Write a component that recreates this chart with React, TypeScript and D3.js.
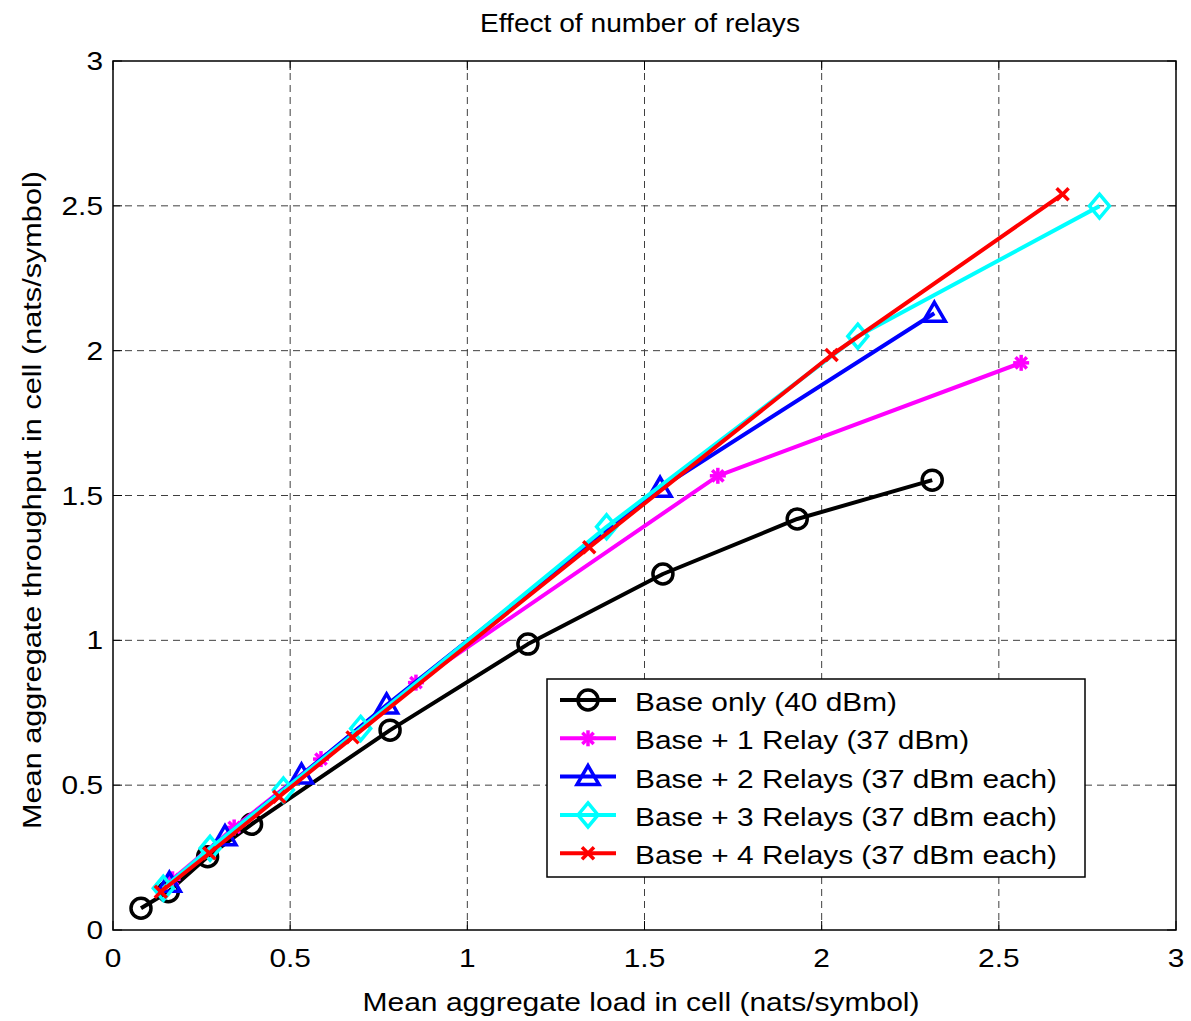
import * as d3 from "d3";
import React from "react";

// Series data (x = load, y = throughput, nats/symbol)
const baseX = [0.079, 0.156, 0.267, 0.391, 0.782, 1.171, 1.552, 1.931, 2.312];
const baseY = [0.075, 0.132, 0.253, 0.365, 0.69, 0.987, 1.229, 1.419, 1.553];

const relay1X = [0.168, 0.342, 0.587, 0.855, 1.707, 2.563];
const relay1Y = [0.175, 0.354, 0.59, 0.854, 1.568, 1.958];

const relay2X = [0.159, 0.316, 0.532, 0.772, 1.544, 2.318];
const relay2Y = [0.161, 0.322, 0.535, 0.777, 1.525, 2.129];

const relay3X = [0.142, 0.274, 0.481, 0.699, 1.393, 2.102, 2.784];
const relay3Y = [0.144, 0.282, 0.483, 0.696, 1.392, 2.05, 2.499];

const relay4X = [0.135, 0.272, 0.469, 0.676, 1.344, 2.028, 2.68];
const relay4Y = [0.132, 0.265, 0.46, 0.665, 1.321, 1.985, 2.54];

const xTicks = [0, 0.5, 1, 1.5, 2, 2.5, 3];
const yTicks = [0, 0.5, 1, 1.5, 2, 2.5, 3];

const seriesNames = [
  "Base only (40 dBm)",
  "Base + 1 Relay (37 dBm)",
  "Base + 2 Relays (37 dBm each)",
  "Base + 3 Relays (37 dBm each)",
  "Base + 4 Relays (37 dBm each)"
];
const seriesColors = ["#000000", "#ff00ff", "#0000ff", "#00ffff", "#ff0000"];
const seriesMarkers = ["circle", "asterisk", "triangle", "diamond", "x"];
const seriesX = [baseX, relay1X, relay2X, relay3X, relay4X];
const seriesY = [baseY, relay1Y, relay2Y, relay3Y, relay4Y];

const font = "'Liberation Sans', Arial, sans-serif";
const stretch = 1.17; // the original text is rendered a bit wider than Arial

// text stretched horizontally around its anchor point
function WideText({ x, y, anchor = "start", size = 25.5, children }) {
  return (
    <text
      transform={`translate(${x},${y}) scale(${stretch},1)`}
      textAnchor={anchor}
      fontSize={size}
      fill="#000"
    >
      {children}
    </text>
  );
}

function Marker({ type, cx, cy, color }) {
  const sw = 3.5;
  if (type === "circle") {
    return <circle cx={cx} cy={cy} r={10} fill="none" stroke={color} strokeWidth={sw} />;
  }
  if (type === "triangle") {
    const pts = [[cx, cy - 11], [cx + 11, cy + 8], [cx - 11, cy + 8]];
    return <polygon points={pts.map((p) => p.join(",")).join(" ")} fill="none" stroke={color} strokeWidth={sw} />;
  }
  if (type === "diamond") {
    const pts = [[cx, cy - 12], [cx + 10, cy], [cx, cy + 12], [cx - 10, cy]];
    return <polygon points={pts.map((p) => p.join(",")).join(" ")} fill="none" stroke={color} strokeWidth={sw} />;
  }
  if (type === "x") {
    const r = 6;
    return (
      <g stroke={color} strokeWidth={sw}>
        <line x1={cx - r} y1={cy - r} x2={cx + r} y2={cy + r} />
        <line x1={cx - r} y1={cy + r} x2={cx + r} y2={cy - r} />
      </g>
    );
  }
  // asterisk
  const r = 8;
  const d = r * 0.707;
  return (
    <g stroke={color} strokeWidth={sw}>
      <line x1={cx - r} y1={cy} x2={cx + r} y2={cy} />
      <line x1={cx} y1={cy - r} x2={cx} y2={cy + r} />
      <line x1={cx - d} y1={cy - d} x2={cx + d} y2={cy + d} />
      <line x1={cx - d} y1={cy + d} x2={cx + d} y2={cy - d} />
    </g>
  );
}

export default function App() {
  const width = 1191;
  const height = 1021;
  const left = 113, right = 1176, top = 61, bottom = 930;

  const x = d3.scaleLinear().domain([0, 3]).range([left, right]);
  const y = d3.scaleLinear().domain([0, 3]).range([bottom, top]);

  const legend = { x0: 547, y0: 679, x1: 1085, y1: 877 };
  const rowH = 38.3;
  const fmt = d3.format("~g");

  return (
    <svg
      width={width}
      height={height}
      style={{ position: "absolute", left: 0, top: 0, background: "#fff" }}
      fontFamily={font}
    >
      <rect x={0} y={0} width={width} height={height} fill="#fff" />

      {/* grid */}
      <g stroke="#000" strokeWidth={1} strokeDasharray="7,5" opacity={0.75}>
        {xTicks.slice(1, -1).map((t) => (
          <line key={"gx" + t} x1={x(t)} x2={x(t)} y1={top} y2={bottom} />
        ))}
        {yTicks.slice(1, -1).map((t) => (
          <line key={"gy" + t} x1={left} x2={right} y1={y(t)} y2={y(t)} />
        ))}
      </g>

      {/* ticks on all four sides */}
      <g stroke="#000" strokeWidth={1}>
        {xTicks.map((t) => (
          <g key={"tx" + t}>
            <line x1={x(t)} x2={x(t)} y1={bottom} y2={bottom - 9} />
            <line x1={x(t)} x2={x(t)} y1={top} y2={top + 9} />
          </g>
        ))}
        {yTicks.map((t) => (
          <g key={"ty" + t}>
            <line x1={left} x2={left + 9} y1={y(t)} y2={y(t)} />
            <line x1={right} x2={right - 9} y1={y(t)} y2={y(t)} />
          </g>
        ))}
      </g>

      {/* tick labels */}
      {xTicks.map((t) => (
        <WideText key={"lx" + t} x={x(t)} y={bottom + 37} anchor="middle">
          {fmt(t)}
        </WideText>
      ))}
      {yTicks.map((t) => (
        <WideText key={"ly" + t} x={left - 10} y={y(t) + 9} anchor="end">
          {fmt(t)}
        </WideText>
      ))}

      {/* series */}
      {seriesNames.map((name, i) => {
        const xs = seriesX[i];
        const ys = seriesY[i];
        const pts: [number, number][] = xs.map((v, j) => [x(v), y(ys[j])]);
        return (
          <g key={name}>
            <path
              d={d3.line()(pts) || ""}
              fill="none"
              stroke={seriesColors[i]}
              strokeWidth={4}
              strokeLinejoin="round"
            />
            {pts.map((p, j) => (
              <Marker key={j} type={seriesMarkers[i]} cx={p[0]} cy={p[1]} color={seriesColors[i]} />
            ))}
          </g>
        );
      })}

      {/* axes box */}
      <rect x={left} y={top} width={right - left} height={bottom - top} fill="none" stroke="#000" strokeWidth={1.5} />

      {/* legend */}
      <rect
        x={legend.x0}
        y={legend.y0}
        width={legend.x1 - legend.x0}
        height={legend.y1 - legend.y0}
        fill="#fff"
        stroke="#000"
        strokeWidth={1.5}
      />
      {seriesNames.map((name, i) => {
        const cy = legend.y0 + 21 + i * rowH;
        return (
          <g key={"lg" + name}>
            <line x1={560} x2={616} y1={cy} y2={cy} stroke={seriesColors[i]} strokeWidth={4} />
            <Marker type={seriesMarkers[i]} cx={588} cy={cy} color={seriesColors[i]} />
            <WideText x={635} y={cy + 11}>
              {name}
            </WideText>
          </g>
        );
      })}

      {/* title and axis labels */}
      <text x={640} y={32} textAnchor="middle" fontSize={26.5} fill="#000" textLength={320} lengthAdjust="spacingAndGlyphs">
        Effect of number of relays
      </text>
      <text x={641} y={1011} textAnchor="middle" fontSize={26} fill="#000" textLength={557} lengthAdjust="spacingAndGlyphs">
        Mean aggregate load in cell (nats/symbol)
      </text>
      <text
        transform={`translate(41, 500) rotate(-90)`}
        textAnchor="middle"
        fontSize={26}
        fill="#000"
        textLength={658}
        lengthAdjust="spacingAndGlyphs"
      >
        Mean aggregate throughput in cell (nats/symbol)
      </text>
    </svg>
  );
}
